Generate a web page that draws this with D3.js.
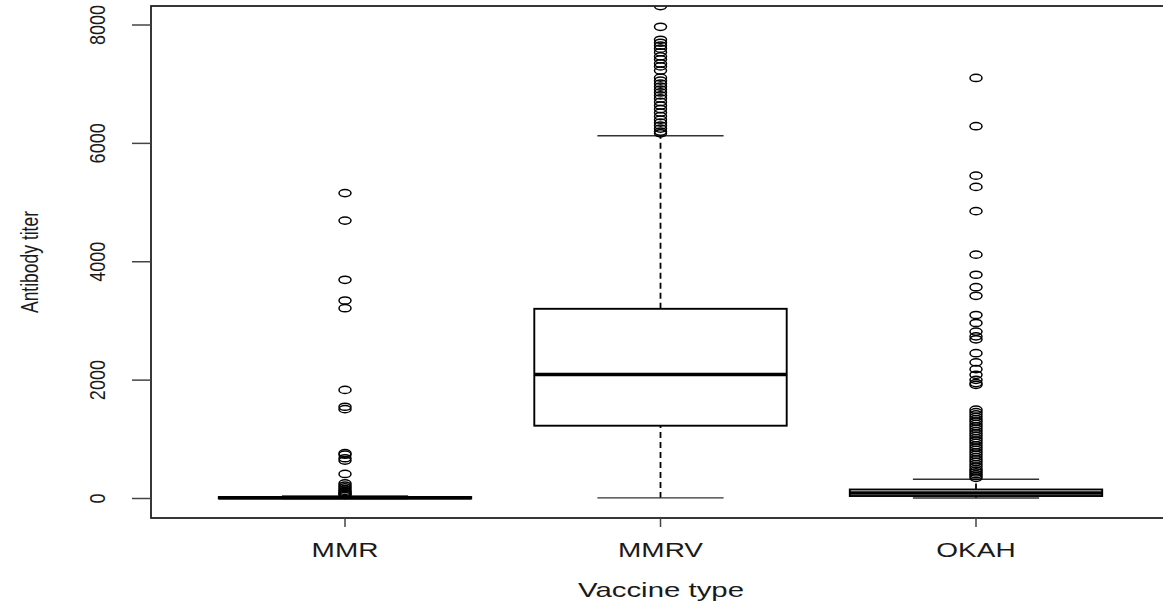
<!DOCTYPE html>
<html>
<head>
<meta charset="utf-8">
<script src="https://cdn.jsdelivr.net/npm/d3@7"></script>
<style>
  body { margin: 0; background: #fff; }
  text { font-family: 'Liberation Sans', Arial, sans-serif; fill: #1a1a1a; }
</style>
</head>
<body>
<svg id="chart" width="1163" height="604"></svg>
<script>
// box stats per vaccine type
const categories = ['MMR', 'MMRV', 'OKAH']
const lowerWhisker = [0, 10, 8]
const q1 = [0, 1230, 42]
const medians = [12, 2095, 93]
const q3 = [25, 3205, 152]
const upperWhisker = [45, 6130, 325]

const mmrOutliers = [5160, 4695, 3695, 3345, 3215, 1835, 1550, 1510, 765, 740, 680, 640, 415, 255, 220, 190, 160, 130, 110, 90, 75, 60]
const mmrvOutliers = [8320, 7970, 7750, 7700, 7650, 7600, 7540, 7470, 7420, 7350, 7300, 7230, 7110, 7060, 7010, 6960, 6910, 6860, 6810, 6760, 6700, 6640, 6580, 6520, 6460, 6400, 6350, 6300, 6250, 6200, 6170]
const okahOutliers = [7105, 6290, 5455, 5265, 4855, 4120, 3780, 3570, 3425, 3100, 2965, 2820, 2740, 2690, 2455, 2300, 2185, 2090, 2005, 1950, 1920, 1500, 1460, 1420, 1380, 1340, 1300, 1260, 1220, 1180, 1140, 1100, 1060, 1020, 980, 940, 900, 860, 820, 780, 740, 700, 660, 620, 580, 540, 500, 470, 440, 410, 380, 350]

const yTicks = [0, 2000, 4000, 6000, 8000]

const plot = {left: 151, top: 6, right: 1168, bottom: 518}
const sx = 1.4 // the picture is stretched sideways

const svg = d3.select('#chart')

const x = d3.scalePoint()
    .domain(categories)
    .range([345, 976])
const y = d3.scaleLinear()
    .domain([0, 8000])
    .range([498.5, 25])

const step = x.step()
const boxHalf = step * 0.4
const capHalf = step * 0.2

svg.append('clipPath').attr('id', 'plotClip')
    .append('rect')
    .attr('x', plot.left).attr('y', plot.top)
    .attr('width', plot.right - plot.left).attr('height', plot.bottom - plot.top)

const g = svg.append('g').attr('clip-path', 'url(#plotClip)')

const boxes = categories.map((c, i) => ({
    key: c, lo: lowerWhisker[i], q1: q1[i], med: medians[i], q3: q3[i], hi: upperWhisker[i],
    out: [mmrOutliers, mmrvOutliers, okahOutliers][i]
}))

boxes.forEach(b => {
    const cx = x(b.key)
    // whiskers
    g.append('line')
        .attr('x1', cx).attr('x2', cx)
        .attr('y1', y(b.q3)).attr('y2', y(b.hi))
        .attr('stroke', '#000').attr('stroke-width', 1.8)
        .attr('stroke-dasharray', '6,4')
    g.append('line')
        .attr('x1', cx).attr('x2', cx)
        .attr('y1', y(b.lo)).attr('y2', y(b.q1))
        .attr('stroke', '#000').attr('stroke-width', 1.8)
        .attr('stroke-dasharray', '6,4')
    // caps
    ;[b.lo, b.hi].forEach(v => {
        g.append('line')
            .attr('x1', cx - capHalf).attr('x2', cx + capHalf)
            .attr('y1', y(v)).attr('y2', y(v))
            .attr('stroke', '#333').attr('stroke-width', 1.4)
    })
    // box
    g.append('rect')
        .attr('x', cx - boxHalf)
        .attr('y', y(b.q3))
        .attr('width', boxHalf * 2)
        .attr('height', y(b.q1) - y(b.q3))
        .attr('fill', 'white')
        .attr('stroke', '#000').attr('stroke-width', 1.9)
    g.append('line')
        .attr('x1', cx - boxHalf).attr('x2', cx + boxHalf)
        .attr('y1', y(b.med)).attr('y2', y(b.med))
        .attr('stroke', '#000').attr('stroke-width', 3.4)
    // outliers
    g.selectAll(null)
        .data(b.out)
        .enter()
        .append('ellipse')
        .attr('cx', cx)
        .attr('cy', d => y(d))
        .attr('rx', 6)
        .attr('ry', 3.6)
        .attr('fill', 'none')
        .attr('stroke', '#000')
        .attr('stroke-width', 1.5)
})

// frame
svg.append('rect')
    .attr('x', plot.left).attr('y', plot.top)
    .attr('width', plot.right - plot.left).attr('height', plot.bottom - plot.top)
    .attr('fill', 'none')
    .attr('stroke', '#222').attr('stroke-width', 1.8)

// y axis ticks + labels
svg.selectAll('.yTick')
    .data(yTicks)
    .enter()
    .append('line')
    .attr('class', 'yTick')
    .attr('x1', 132).attr('x2', plot.left)
    .attr('y1', d => y(d)).attr('y2', d => y(d))
    .attr('stroke', '#444').attr('stroke-width', 1.5)

svg.selectAll('.yLabel')
    .data(yTicks)
    .enter()
    .append('text')
    .attr('class', 'yLabel')
    .attr('transform', d => `translate(105,${y(d)}) scale(1.25,1) rotate(-90)`)
    .attr('text-anchor', 'middle')
    .style('font-size', '18px')
    .text(d => d)

svg.append('text')
    .attr('transform', `translate(38,262) scale(1.35,1) rotate(-90)`)
    .attr('text-anchor', 'middle')
    .style('font-size', '17.5px')
    .text('Antibody titer')

// x axis ticks + labels
svg.selectAll('.xTick')
    .data(categories)
    .enter()
    .append('line')
    .attr('class', 'xTick')
    .attr('x1', d => x(d)).attr('x2', d => x(d))
    .attr('y1', plot.bottom).attr('y2', plot.bottom + 9)
    .attr('stroke', '#444').attr('stroke-width', 1.5)

svg.selectAll('.xLabel')
    .data(categories)
    .enter()
    .append('text')
    .attr('class', 'xLabel')
    .attr('transform', d => `translate(${x(d)},557) scale(${sx},1)`)
    .attr('text-anchor', 'middle')
    .style('font-size', '20px')
    .text(d => d)

svg.append('text')
    .attr('transform', `translate(661,597) scale(${sx},1)`)
    .attr('text-anchor', 'middle')
    .style('font-size', '21px')
    .text('Vaccine type')
</script>
</body>
</html>
